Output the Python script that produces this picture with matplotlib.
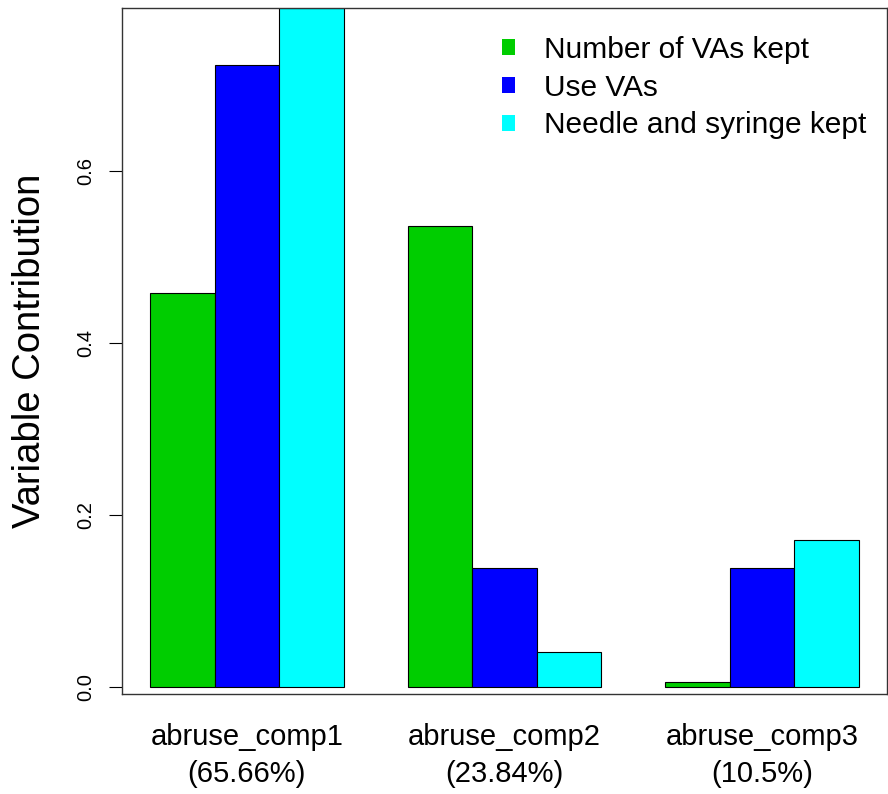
import numpy as np
import matplotlib
matplotlib.use("Agg")
import matplotlib.pyplot as plt
from matplotlib.patches import Patch

plt.rcParams["font.family"] = ["Liberation Sans", "DejaVu Sans"]

groups = ["abruse_comp1\n(65.66%)", "abruse_comp2\n(23.84%)", "abruse_comp3\n(10.5%)"]
series = ["Number of VAs kept", "Use VAs", "Needle and syringe kept"]
colors = ["#00CD00", "#0000FF", "#00FFFF"]
values = [
    [0.458, 0.536, 0.006],
    [0.723, 0.138, 0.138],
    [0.790, 0.041, 0.171],
]

fig = plt.figure(figsize=(8.88, 7.94), dpi=100)
ax = fig.add_axes([122 / 888, 100 / 794, 765 / 888, 686 / 794])

# R barplot style: groups of 3 bars, one bar-width space between groups
for j, (name, col) in enumerate(zip(series, colors)):
    lefts = 1 + np.arange(len(groups)) * 4 + j
    ax.bar(lefts, values[j], width=1, align="edge", color=col,
           edgecolor="black", linewidth=0.8)

ax.set_xlim(0.56, 12.44)
ax.set_ylim(-0.0081, 0.7895)

centers = 1 + np.arange(len(groups)) * 4 + 1.5
ax.set_xticks(centers)
ax.set_xticklabels(groups, fontsize=21, linespacing=1.4)
ax.tick_params(axis="x", length=0, pad=21)

ax.set_yticks([0.0, 0.2, 0.4, 0.6])
ax.set_yticklabels(["0.0", "0.2", "0.4", "0.6"], rotation=90, va="center",
                   fontsize=14.5)
ax.tick_params(axis="y", length=9.5, width=0.8, pad=10, direction="out")
ax.set_ylabel("Variable Contribution", fontsize=27.5, labelpad=20)

for s in ax.spines.values():
    s.set_linewidth(1.0)
    s.set_color("#333333")

handles = [Patch(facecolor=c, edgecolor=c, linewidth=0) for c in colors]
ax.legend(handles, series, loc="upper right", frameon=False, fontsize=21.5,
          handlelength=0.45, handleheight=0.45, handletextpad=0.95,
          labelspacing=0.33, borderaxespad=0.3, bbox_to_anchor=(1.0, 0.99))

fig.savefig("out.png", dpi=100)
plt.close()
